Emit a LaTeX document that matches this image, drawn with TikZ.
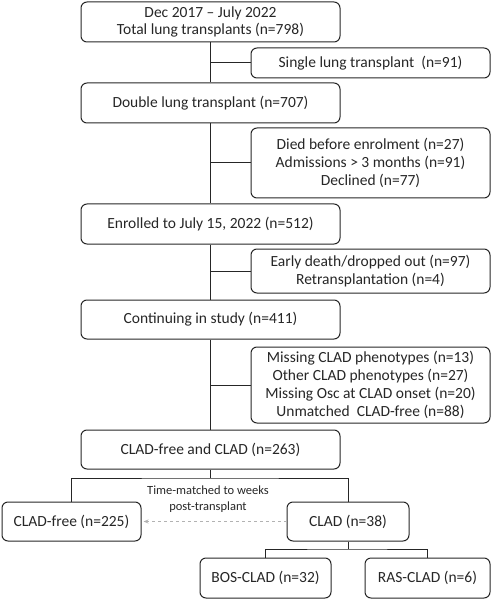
\documentclass[tikz,border=0pt]{standalone}
\usepackage{fontspec}
\setmainfont{Carlito}
\usetikzlibrary{arrows.meta}
\definecolor{ink}{HTML}{262626}
\begin{document}
\begin{tikzpicture}[x=1pt,y=-1pt,
  box/.style={draw=ink,line width=1pt,rounded corners=6pt,inner sep=0pt,align=center,
    font=\fontsize{15.5}{17.8}\selectfont,text=ink},
  link/.style={draw=ink,line width=1pt},
  matched/.style={draw=gray!60,line width=1pt,dashed,-{Stealth[length=5pt,width=4pt]}}]
\useasboundingbox (0,0) rectangle (498,601);
\node[box,minimum width=259pt,minimum height=40pt] (total) at (210.5,22) {Dec 2017 -- July 2022\\Total lung transplants (n=798)};
\node[box,minimum width=239pt,minimum height=30pt] (single) at (370.5,63) {Single lung transplant\ \ (n=91)};
\node[box,minimum width=259pt,minimum height=40pt] (double) at (210.5,103) {Double lung transplant (n=707)};
\node[box,minimum width=239pt,minimum height=70pt] (died) at (370.5,163) {Died before enrolment (n=27)\\Admissions {>} 3 months (n=91)\\Declined (n=77)};
\node[box,minimum width=259pt,minimum height=40pt] (enrol) at (210.5,224) {Enrolled to July 15, 2022 (n=512)};
\node[box,minimum width=239pt,minimum height=44pt] (early) at (370.5,271) {Early death/dropped out (n=97)\\Retransplantation (n=4)};
\node[box,minimum width=259pt,minimum height=39pt] (cont) at (210.5,319.5) {Continuing in study (n=411)};
\node[box,minimum width=239pt,minimum height=76pt] (missing) at (370.5,385) {Missing CLAD phenotypes (n=13)\\Other CLAD phenotypes (n=27)\\Missing Osc at CLAD onset (n=20)\\Unmatched\ \ CLAD-free (n=88)};
\node[box,minimum width=259pt,minimum height=39pt] (both) at (210.5,449.5) {CLAD-free and CLAD (n=263)};
\node[box,minimum width=139pt,minimum height=39pt] (free) at (71.5,521.5) {CLAD-free (n=225)};
\node[box,minimum width=122pt,minimum height=39pt] (clad) at (348,521.5) {CLAD (n=38)};
\node[box,minimum width=131pt,minimum height=40pt] (bos) at (265.5,578) {BOS-CLAD (n=32)};
\node[box,minimum width=125pt,minimum height=40pt] (ras) at (427.5,578) {RAS-CLAD (n=6)};
\node[align=center,text=ink,font=\fontsize{12.5}{16}\selectfont] (tm) at (208,499) {Time-matched to weeks\\post-transplant};
% main spine
\draw[link] (total.south) -- (double.north);
\draw[link] (double.south) -- (enrol.north);
\draw[link] (enrol.south) -- (cont.north);
\draw[link] (cont.south) -- (both.north);
% side branches
\draw[link] (total.south |- single.west) -- (single.west);
\draw[link] (double.south |- died.west) -- (died.west);
\draw[link] (enrol.south |- early.west) -- (early.west);
\draw[link] (cont.south |- missing.west) -- (missing.west);
% split
\coordinate (split) at (210.5,478);
\draw[link] (both.south) -- (split);
\draw[link] (free.north) |- (split) -| (clad.north);
\coordinate (split2) at (348,549);
\draw[link] (clad.south) -- (split2);
\draw[link] (bos.north) |- (split2) -| (ras.north);
% matching arrow
\draw[matched] (clad.west) -- ([xshift=2pt]free.east);
\end{tikzpicture}
\end{document}
